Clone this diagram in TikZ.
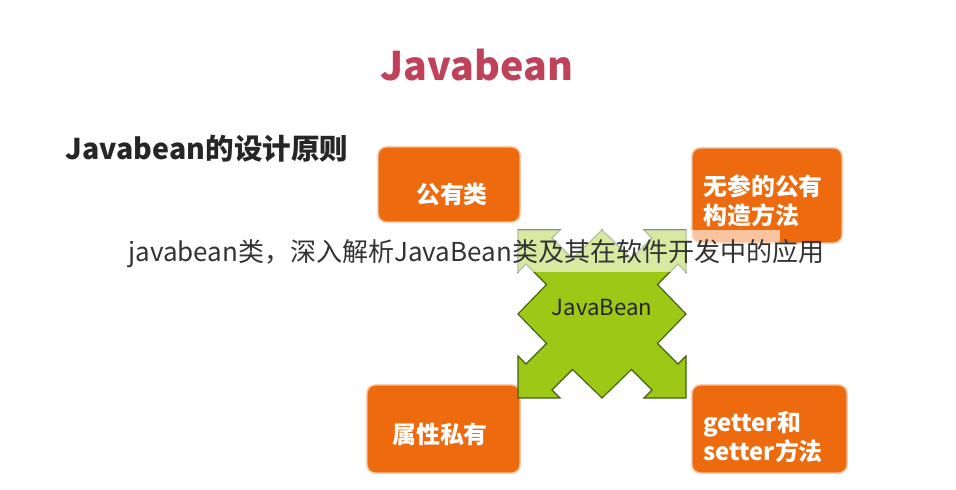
\documentclass[tikz,border=0pt]{standalone}
\usepackage{fontspec}
\setmainfont{Noto Sans CJK SC}
\usetikzlibrary{positioning}
\definecolor{boxorange}{RGB}{238,106,14}
\definecolor{beangreen}{RGB}{158,200,22}
\definecolor{beanline}{RGB}{66,96,18}
\definecolor{titlered}{RGB}{192,66,90}
\tikzset{box/.style = {fill=boxorange, draw=boxorange!45, line width=1pt, rounded corners=6pt}}
\tikzset{boxtext/.style = {text=white, font=\bfseries\fontsize{17}{20.5}\selectfont, align=left, inner sep=0}}

\begin{document}
\begin{tikzpicture}[x=0.025cm, y=-0.025cm]
    \useasboundingbox [fill=white] (0, 0) rectangle (956, 490);

    \node [anchor=base, text=titlered, font=\bfseries\fontsize{28}{28}\selectfont] (title) at (477, 81) {Javabean};
    \node [anchor=base west, text=black!85, font=\bfseries\fontsize{20.3}{20.3}\selectfont] (heading) at (61, 160) {Javabean的设计原则};

    % the four boxes
    \path [box] (378, 147) rectangle (520, 222);
    \path [box] (692, 148) rectangle (842, 243);
    \path [box] (367, 385) rectangle (520, 473);
    \path [box] (692, 385) rectangle (847, 473);

    \node [boxtext] (public) at (452, 194) {公有类};
    \node [boxtext, anchor=west] (ctor) at (703, 200.5) {无参的公有\\构造方法};
    \node [boxtext] (private) at (440, 434) {属性私有};
    \node [boxtext, anchor=west] (access) at (703, 437) {getter和\\setter方法};

    % green arrows
    \filldraw [fill=beangreen, draw=beanline, line width=0.8pt]
        (602, 230) -- (572.5, 258.5) -- (552, 238) -- (560, 230) -- (518, 230)
        -- (518, 272) -- (526, 264) -- (546.5, 284.5) -- (518, 314)
        -- (546.5, 343.5) -- (526, 364) -- (518, 356) -- (518, 398)
        -- (560, 398) -- (552, 390) -- (572.5, 369.5) -- (602, 398)
        -- (631.5, 369.5) -- (652, 390) -- (644, 398) -- (686, 398)
        -- (686, 356) -- (678, 364) -- (657.5, 343.5) -- (686, 314)
        -- (657.5, 284.5) -- (678, 264) -- (686, 272) -- (686, 230)
        -- (644, 230) -- (652, 238) -- (631.5, 258.5) -- cycle;
    \node [text=black!85, font=\fontsize{15.8}{15.8}\selectfont] (bean) at (602, 308) {JavaBean};

    % caption band
    \fill [white, opacity=0.6] (470, 230) rectangle (780, 272);
    \node [anchor=base west, inner sep=0, text=black!80, font=\fontsize{18.5}{18.5}\selectfont] (caption) at (128, 262) {javabean类，深入解析JavaBean类及其在软件开发中的应用};
\end{tikzpicture}
\end{document}
